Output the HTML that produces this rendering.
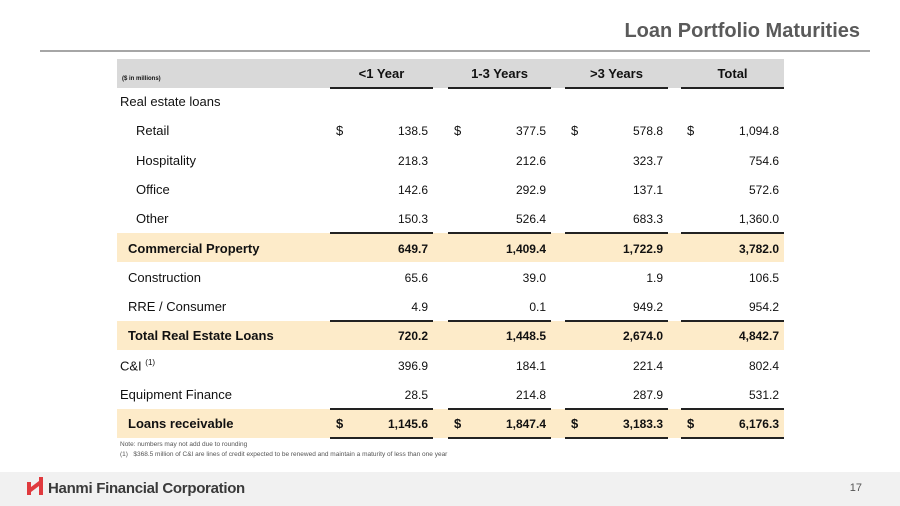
<!DOCTYPE html>
<html><head><meta charset="utf-8"><style>
*{margin:0;padding:0;box-sizing:border-box}
body{width:900px;height:506px;position:relative;background:#fff;font-family:"Liberation Sans",sans-serif;overflow:hidden;color:#111}
.a{position:absolute;white-space:nowrap}
.t{font-size:13px}
.n{font-size:12px;text-align:right;width:100px}
.b{font-weight:bold}
.band{position:absolute;left:117px;width:667px;height:29px;background:#fdebc9}
.ul{position:absolute;height:2px;background:#222;width:103px}
</style></head><body>
<div class="a b" style="right:40px;top:20px;font-size:20px;color:#5a5a5a">Loan Portfolio Maturities</div>
<div class="a" style="left:40px;top:50px;width:830px;height:2px;background:#a6a6a6"></div>
<div class="a" style="left:117px;top:59px;width:667px;height:29px;background:#d9d9d9"></div>
<div class="a b" style="left:122px;top:76px;font-size:6px">($ in millions)</div>
<div class="a b t" style="left:330px;top:66px;width:103px;text-align:center">&lt;1 Year</div>
<div class="a b t" style="left:448px;top:66px;width:103px;text-align:center">1-3 Years</div>
<div class="a b t" style="left:565px;top:66px;width:103px;text-align:center">&gt;3 Years</div>
<div class="a b t" style="left:681px;top:66px;width:103px;text-align:center">Total</div>
<div class="ul" style="left:330px;top:87px"></div><div class="ul" style="left:448px;top:87px"></div><div class="ul" style="left:565px;top:87px"></div><div class="ul" style="left:681px;top:87px"></div>
<div class="band" style="top:233px"></div><div class="band" style="top:321px"></div><div class="band" style="top:409px"></div>
<div class="ul" style="left:330px;top:232px"></div><div class="ul" style="left:448px;top:232px"></div><div class="ul" style="left:565px;top:232px"></div><div class="ul" style="left:681px;top:232px"></div>
<div class="ul" style="left:330px;top:320px"></div><div class="ul" style="left:448px;top:320px"></div><div class="ul" style="left:565px;top:320px"></div><div class="ul" style="left:681px;top:320px"></div>
<div class="ul" style="left:330px;top:408px"></div><div class="ul" style="left:448px;top:408px"></div><div class="ul" style="left:565px;top:408px"></div><div class="ul" style="left:681px;top:408px"></div>
<div class="ul" style="left:330px;top:437px"></div><div class="ul" style="left:448px;top:437px"></div><div class="ul" style="left:565px;top:437px"></div><div class="ul" style="left:681px;top:437px"></div>
<div id="rows"></div>
<div class="a" style="left:120px;top:441px;font-size:6.5px;color:#555">Note: numbers may not add due to rounding</div>
<div class="a" style="left:120px;top:451px;font-size:6.5px;color:#555">(1)&nbsp;&nbsp; $368.5 million of C&amp;I are lines of credit expected to be renewed and maintain a maturity of less than one year</div>
<div class="a" style="left:0;top:472px;width:900px;height:34px;background:#f1f1f1"></div>
<svg class="a" style="left:27px;top:476px" width="16" height="20"><path d="M0 6h4v5l8-6V1h4v18h-4v-9l-8 6v3H0z" fill="#e03a3e"/></svg>
<div class="a b" style="left:48px;top:480px;font-size:15px;color:#3a3a3a;letter-spacing:-0.3px">Hanmi Financial Corporation</div>
<div class="a" style="right:38px;top:482px;font-size:11px;color:#555">17</div>
<script>
var R=[["Real estate loans",0,null,0],["Retail",1,["138.5","377.5","578.8","1,094.8"],0,1],["Hospitality",1,["218.3","212.6","323.7","754.6"],0],["Office",1,["142.6","292.9","137.1","572.6"],0],["Other",1,["150.3","526.4","683.3","1,360.0"],0],["Commercial Property",2,["649.7","1,409.4","1,722.9","3,782.0"],1],["Construction",2,["65.6","39.0","1.9","106.5"],0],["RRE / Consumer",2,["4.9","0.1","949.2","954.2"],0],["Total Real Estate Loans",2,["720.2","1,448.5","2,674.0","4,842.7"],1],["C&amp;I <sup style='font-size:8px'>(1)</sup>",0,["396.9","184.1","221.4","802.4"],0],["Equipment Finance",0,["28.5","214.8","287.9","531.2"],0],["Loans receivable",2,["1,145.6","1,847.4","3,183.3","6,176.3"],1,1]];
var h="",L=[120,136,128],C=[330,448,565,681];
R.forEach(function(r,i){var y=94+i*29.3;var b=r[3]?" b":"";
h+='<div class="a t'+b+'" style="left:'+L[r[1]]+'px;top:'+y+'px">'+r[0]+'</div>';
if(r[2])r[2].forEach(function(v,j){h+='<div class="a n'+b+'" style="left:'+(C[j]-2)+'px;top:'+(y+1)+'px">'+v+'</div>';if(r[4])h+='<div class="a t'+b+'" style="left:'+(C[j]+6)+'px;top:'+y+'px">$</div>';});});
document.getElementById("rows").innerHTML=h;
</script>
</body></html>
